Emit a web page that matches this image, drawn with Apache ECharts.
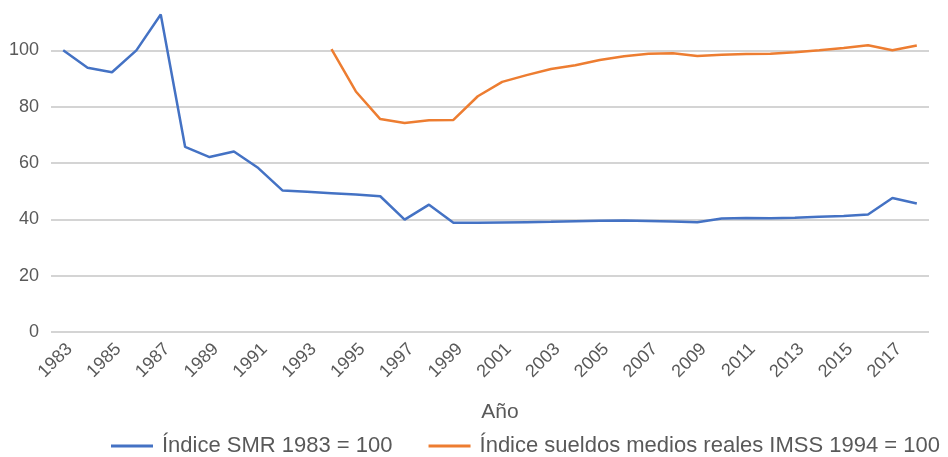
<!DOCTYPE html>
<html>
<head>
<meta charset="utf-8">
<script src="https://cdn.jsdelivr.net/npm/echarts@6/dist/echarts.min.js"></script>
<style>
  html, body { margin: 0; padding: 0; background: #fff; overflow: hidden; }
  /* chart starts a little above the page so the 120 gridline falls outside */
  #chart { width: 948px; height: 463px; margin-top: -6px; }
</style>
</head>
<body>
<div id="chart"></div>
<script>
// años 1983 - 2018
var years = [];
for (var y = 1983; y <= 2018; y++) years.push(String(y));

// Índice SMR 1983 = 100
var smr = [100, 93.8, 92.2, 100, 112.7, 65.7, 62.1, 64.1, 58.2, 50.2,
    49.8, 49.3, 48.8, 48.2, 39.9, 45.2, 38.8, 38.8, 38.9, 39.0,
    39.1, 39.3, 39.5, 39.6, 39.4, 39.2, 39.0, 40.3, 40.5, 40.4,
    40.6, 40.9, 41.2, 41.7, 47.6, 45.6];

// Índice sueldos medios reales IMSS 1994 = 100
var imss = [null, null, null, null, null, null, null, null, null, null, null,
    100.4, 85.4, 75.6, 74.2, 75.2, 75.3, 83.7, 88.8, 91.2, 93.4,
    94.7, 96.6, 97.9, 98.8, 99.0, 98.0, 98.4, 98.7, 98.8, 99.3,
    100.0, 100.8, 101.8, 100.0, 101.7];

var yTicks = [0, 20, 40, 60, 80, 100, 120];

var myChart = echarts.init(document.getElementById('chart'));

var option = {
    animation: false,
    textStyle: { fontFamily: 'Liberation Sans' },
    grid: {
        left: 51,
        right: 19,
        top: 0,
        bottom: 125
    },
    xAxis: {
        type: 'category',
        data: years,
        boundaryGap: true,
        name: 'Año',
        nameLocation: 'middle',
        nameGap: 70,
        nameTextStyle: { fontSize: 21, color: '#595959', padding: [0, 0, 0, 20] },
        axisLine: { show: false },
        axisTick: { show: false },
        axisLabel: {
            interval: 1,
            rotate: 45,
            margin: 8,
            verticalAlign: 'top',
            fontSize: 18,
            color: '#595959'
        }
    },
    yAxis: {
        type: 'value',
        min: yTicks[0],
        max: yTicks[yTicks.length - 1],
        interval: 20,
        axisLine: { show: false },
        axisTick: { show: false },
        axisLabel: {
            showMaxLabel: false,
            fontSize: 18,
            color: '#595959',
            margin: 12
        },
        splitLine: { lineStyle: { color: '#c6c6c6', width: 1.5 } }
    },
    legend: {
        left: 106,
        top: 436,
        icon: 'rect',
        itemWidth: 42,
        itemHeight: 3,
        itemGap: 36,
        textStyle: { fontSize: 22, color: '#595959', padding: [0, 0, 0, 4] },
        data: ['Índice SMR 1983 = 100', 'Índice sueldos medios reales IMSS 1994 = 100']
    },
    series: [
        {
            name: 'Índice SMR 1983 = 100',
            type: 'line',
            data: smr,
            symbol: 'none',
            color: '#4472C4',
            lineStyle: { width: 2.5, color: '#4472C4' }
        },
        {
            name: 'Índice sueldos medios reales IMSS 1994 = 100',
            type: 'line',
            data: imss,
            symbol: 'none',
            color: '#ED7D31',
            lineStyle: { width: 2.5, color: '#ED7D31' }
        }
    ]
};

myChart.setOption(option);
</script>
</body>
</html>
